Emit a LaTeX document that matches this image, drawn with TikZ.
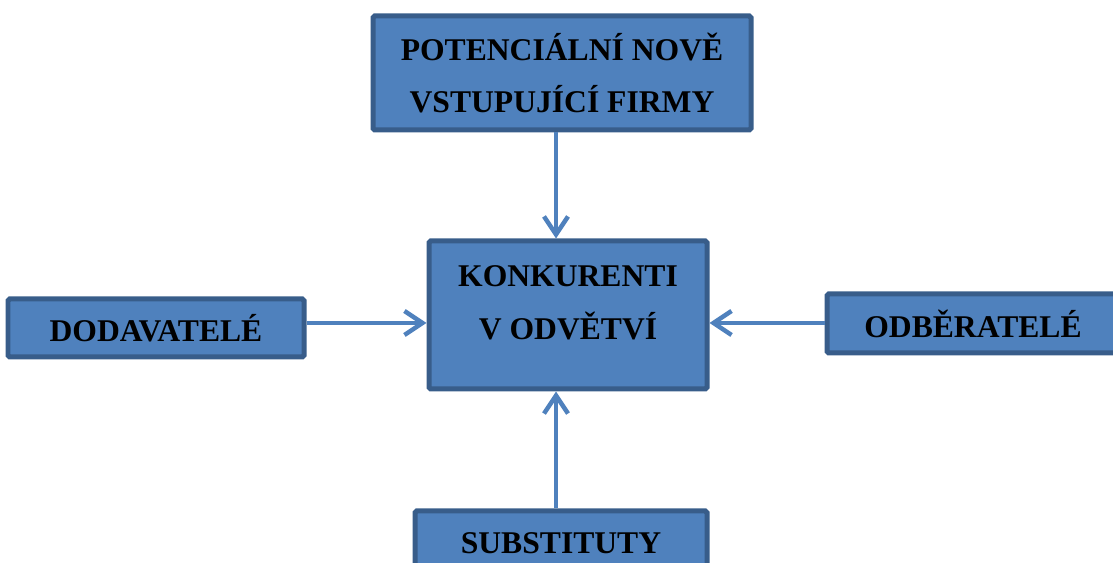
\documentclass[tikz,border=0pt]{standalone}
\usepackage{fontspec}
\setmainfont{Liberation Serif}
\usepackage{tikz}
\usetikzlibrary{arrows.meta}
\usetikzlibrary{calc}
\definecolor{boxfill}{HTML}{4F81BD}
\definecolor{boxline}{HTML}{385D8A}
\tikzset{
  force/.style={draw=boxline, fill=boxfill, line width=0.1cm, rounded corners=1pt,
    align=center, inner sep=0pt, font=\bfseries\fontsize{18}{30}\selectfont},
  pull/.style={draw=boxfill, line width=0.09cm,
    -{Straight Barb[length=0.36cm, width=0.48cm, line width=0.09cm]}}
}
\begin{document}
\begin{tikzpicture}[x=0.02cm, y=0.02cm]

\useasboundingbox (0, 0) rectangle (1113, -563);

\node [force, minimum width=378*0.02cm, minimum height=114*0.02cm] (entrants) at (562, -73)
  {POTENCIÁLNÍ NOVĚ\\VSTUPUJÍCÍ FIRMY};
\node [force, minimum width=278*0.02cm, minimum height=148*0.02cm, text depth=0.5cm] (rivals) at (568, -315)
  {KONKURENTI\\V ODVĚTVÍ};
\node [force, minimum width=296*0.02cm, minimum height=58*0.02cm] (suppliers) at (156, -328)
  {DODAVATELÉ};
\node [force, minimum width=292*0.02cm, minimum height=59*0.02cm] (buyers) at (973, -323.5)
  {ODBĚRATELÉ};
\node [force, minimum width=292*0.02cm, minimum height=64*0.02cm] (substitutes) at (561, -543)
  {SUBSTITUTY};

\draw [pull] ($(entrants.south)+(-6, 0)$) -- ($(rivals.north)+(-12, 0)$);
\draw [pull] ($(substitutes.north)+(-5, 0)$) -- ($(rivals.south)+(-12, 0)$);
\draw [pull] ($(suppliers.east)+(0, 5)$) -- ($(rivals.west)+(0, -8)$);
\draw [pull] ($(buyers.west)+(0, 0.5)$) -- ($(rivals.east)+(0, -8)$);

\end{tikzpicture}
\end{document}
